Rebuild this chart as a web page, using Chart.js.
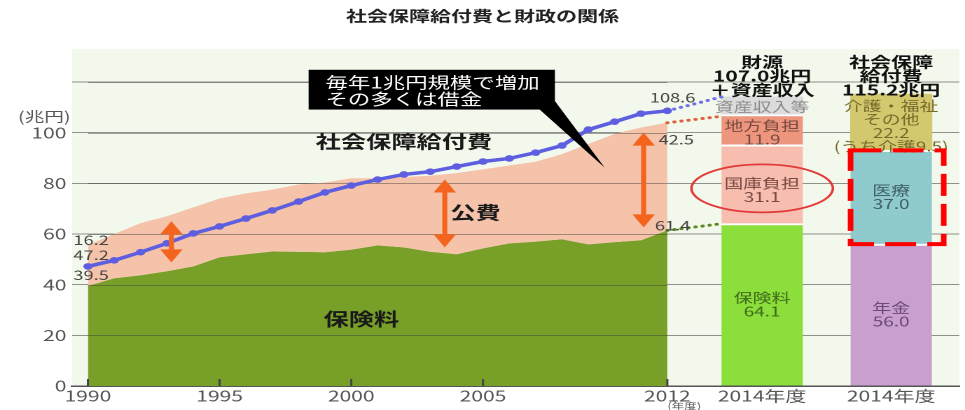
<!DOCTYPE html>
<html lang="ja">
<head>
<meta charset="utf-8">
<title>社会保障給付費と財政の関係</title>
<script src="https://cdn.jsdelivr.net/npm/chart.js@4.4.1/dist/chart.umd.min.js"></script>
<style>
  html, body { margin: 0; padding: 0; background: #fff; overflow: hidden; }
  /* the chart is laid out narrow and widened horizontally */
  #wrap { width: 689px; height: 410px; transform: scaleX(1.4006); transform-origin: 0 0; }
</style>
</head>
<body>
<div id="wrap"><canvas id="myChart"></canvas></div>
<script>
// 年度別（兆円）
const years = [1990, 1991, 1992, 1993, 1994, 1995, 1996, 1997, 1998, 1999, 2000, 2001,
               2002, 2003, 2004, 2005, 2006, 2007, 2008, 2009, 2010, 2011, 2012];
const benefitTotal = [47.2, 49.6, 52.8, 56.3, 60.2, 63.0, 66.1, 69.3, 72.8, 76.4, 79.1, 81.5,
                      83.5, 84.6, 86.6, 88.6, 89.8, 92.1, 94.9, 101.2, 104.3, 107.5, 108.6];
const premiums = [39.5, 42.5, 43.7, 45.3, 47.2, 50.8, 52.0, 53.1, 53.0, 52.8, 53.8, 55.5,
                  54.7, 53.0, 52.0, 54.3, 56.3, 57.0, 57.9, 55.9, 56.8, 57.5, 61.4];
const publicFunds = [16.2, 17.5, 20.6, 21.7, 23.3, 23.2, 24.0, 24.4, 26.5, 27.5, 28.2, 26.5,
                     27.8, 30.0, 32.0, 31.2, 30.7, 31.5, 33.6, 39.6, 42.7, 44.5, 42.5];

// 2012年度から2014年度への見通し（点線の終点）
const trend2014 = { benefit: 114.2, revenue: 106.5, premiums: 64.1 };

// 2014年度 財源と給付
const sourceNames = ['保険料', '国庫負担', '地方負担', '資産収入等'];
const sourceValues = [64.1, 31.1, 11.9, 7.0];
const benefitNames = ['年金', '医療', '介護・福祉その他'];
const benefitValues = [56.0, 37.0, 22.2];

// 軸
const yearTicks = [1990, 1995, 2000, 2005, 2012];
const yTicks = [0, 20, 40, 60, 80, 100, 120];
const yTickLabels = ['0', '20', '40', '60', '80', '100', ''];

const FONT = '"Noto Sans CJK JP", "Noto Sans", sans-serif';
const SOURCE_X = 2015.6;
const BENEFIT_X = 2020.5;

const pts = (vals) => years.map((yr, i) => ({ x: yr, y: vals[i] }));
const revenue = premiums.map((v, i) => +(v + publicFunds[i]).toFixed(1));

function segments(values, colors, xPos, labels, textColors, dys) {
  let base = 0;
  return values.map((v, i) => {
    const d = {
      type: 'bar',
      label: labels[i],
      data: [{ x: xPos, y: [base, base + v] }],
      backgroundColor: colors[i],
      borderColor: '#ffffff',
      borderWidth: { top: i < values.length - 1 ? 2 : 0, left: 0, right: 0, bottom: 0 },
      borderSkipped: false,
      barThickness: 58,
      grouped: false,
      order: 5,
      textLines: labels[i],
      textColor: textColors[i],
      textDy: dys[i],
      value: v
    };
    base += v;
    return d;
  });
}

const sourceBars = segments(sourceValues, ['#8cde3a', '#f7beaf', '#ed967d', '#dcdcdc'],
  SOURCE_X, sourceNames, ['#3f6a1e', '#7a4a42', '#7a4a42', '#8c8c8c'], [0, 6, 3, 1]);
sourceBars[0].textLines = ['保険料', sourceValues[0].toFixed(1)];
sourceBars[1].textLines = ['国庫負担', sourceValues[1].toFixed(1)];
sourceBars[2].textLines = ['地方負担', sourceValues[2].toFixed(1)];
sourceBars[3].textLines = ['資産収入等'];

const benefitBars = segments(benefitValues, ['#c8a0cd', '#8fcacd', '#d4c86e'],
  BENEFIT_X, benefitNames, ['#6e4878', '#3f5f66', '#756a2a'], [0, 0, 4]);
benefitBars[0].textLines = ['年金', benefitValues[0].toFixed(1)];
benefitBars[1].textLines = ['医療', benefitValues[1].toFixed(1)];
benefitBars[2].textLines = ['介護・福祉', 'その他', benefitValues[2].toFixed(1), '(うち介護9.5)'];

// 背景
const plotBg = {
  id: 'plotBg',
  beforeDraw(chart) {
    const { ctx, chartArea: a } = chart;
    ctx.save();
    ctx.fillStyle = '#f3f8ec';
    ctx.fillRect(a.left, a.top, a.right - a.left, a.bottom - a.top);
    ctx.restore();
  }
};

// 面グラフの上にも目盛線を引く
const gridOverArea = {
  id: 'gridOverArea',
  afterDatasetDraw(chart, args) {
    if (chart.data.datasets[args.index].id !== 'public') return;
    const { ctx, scales: { x, y } } = chart;
    ctx.save();
    ctx.strokeStyle = 'rgba(60,60,60,0.45)';
    ctx.lineWidth = 1;
    const x1 = x.getPixelForValue(years[0]), x2 = x.getPixelForValue(years[years.length - 1]);
    yTicks.slice(1).forEach(v => {
      const py = Math.round(y.getPixelForValue(v)) + 0.5;
      ctx.beginPath(); ctx.moveTo(x1, py); ctx.lineTo(x2, py); ctx.stroke();
    });
    ctx.restore();
  }
};

function drawArrow(ctx, px, y1, y2) {
  const hw = 8, hh = 13, sw = 3.6;
  ctx.beginPath();
  ctx.moveTo(px, y1);
  ctx.lineTo(px + hw, y1 + hh);
  ctx.lineTo(px + sw / 2, y1 + hh);
  ctx.lineTo(px + sw / 2, y2 - hh);
  ctx.lineTo(px + hw, y2 - hh);
  ctx.lineTo(px, y2);
  ctx.lineTo(px - hw, y2 - hh);
  ctx.lineTo(px - sw / 2, y2 - hh);
  ctx.lineTo(px - sw / 2, y1 + hh);
  ctx.lineTo(px - hw, y1 + hh);
  ctx.closePath();
  ctx.fill();
}

const notes = {
  id: 'notes',
  afterDraw(chart) {
    const { ctx, chartArea: a, scales: { x, y } } = chart;
    const X = v => x.getPixelForValue(v), Y = v => y.getPixelForValue(v);
    ctx.save();
    ctx.textAlign = 'center';
    ctx.textBaseline = 'middle';

    // 年の目盛（内向き）
    ctx.strokeStyle = '#444';
    ctx.lineWidth = 1.5;
    yearTicks.forEach(v => {
      ctx.beginPath(); ctx.moveTo(X(v), a.bottom); ctx.lineTo(X(v), a.bottom - 7); ctx.stroke();
    });

    // 単位
    ctx.fillStyle = '#555';
    ctx.font = '14px ' + FONT;
    ctx.textAlign = 'right';
    ctx.fillText('(兆円)', a.left - 1, Y(106.3));
    ctx.textAlign = 'center';
    ctx.font = '9px ' + FONT;
    ctx.fillText('(年度)', X(2012.64), a.bottom + 20);

    // 公費の矢印
    ctx.fillStyle = '#f4641e';
    [[1993.17, 65, 48.8], [2003.55, 81.5, 54.7], [2011.1, 100, 62.6]].forEach(([yr, hi, lo]) => {
      drawArrow(ctx, X(yr), Y(hi), Y(lo));
    });

    // 系列名
    ctx.fillStyle = '#1a1a1a';
    ctx.font = 'bold 18px ' + FONT;
    ctx.fillText('社会保障給付費', X(2002.0), Y(96.5));
    ctx.fillText('公費', X(2004.72), Y(68.5));
    ctx.fillText('保険料', X(2000.38), Y(26.4));

    // 数値
    const n = years.length - 1;
    ctx.fillStyle = '#444';
    ctx.font = '13px ' + FONT;
    ctx.textAlign = 'left';
    ctx.fillText(publicFunds[0].toFixed(1), a.left + 1, Y(57.5));
    ctx.fillText(benefitTotal[0].toFixed(1), a.left + 1, Y(51.6));
    ctx.fillText(premiums[0].toFixed(1), a.left + 1, Y(43.7));
    ctx.textAlign = 'center';
    ctx.fillText(benefitTotal[n].toFixed(1), X(2012.2), Y(113.8));
    ctx.fillText(publicFunds[n].toFixed(1), X(2012.34), Y(97.2));
    ctx.fillText(premiums[n].toFixed(1), X(2012.2), Y(63.4));

    // 吹き出し
    const bx1 = X(1998.38), bx2 = X(2007.73), by1 = Y(124.8), by2 = Y(109.1);
    ctx.fillStyle = '#000';
    ctx.fillRect(bx1, by1, bx2 - bx1, by2 - by1);
    ctx.beginPath();
    ctx.moveTo(X(2007.15), by2);
    ctx.lineTo(bx2, Y(112.5));
    ctx.lineTo(X(2009.62), Y(86.2));
    ctx.closePath();
    ctx.fill();
    ctx.fillStyle = '#fff';
    ctx.font = '16px ' + FONT;
    ctx.textAlign = 'left';
    ctx.fillText('毎年1兆円規模で増加', bx1 + 12, by1 + 12.5);
    ctx.fillText('その多くは借金', bx1 + 12, by1 + 29);
    ctx.textAlign = 'center';

    // 棒の見出し
    ctx.fillStyle = '#111';
    ctx.font = 'bold 15px ' + FONT;
    const s0 = chart.getDatasetMeta(chart.data.datasets.indexOf(sourceBars[0])).data[0];
    const b0 = chart.getDatasetMeta(chart.data.datasets.indexOf(benefitBars[0])).data[0];
    ['財源', '107.0兆円', '＋資産収入'].forEach((t, i) => ctx.fillText(t, s0.x, a.top + 13 + i * 14));
    ['社会保障', '給付費', '115.2兆円'].forEach((t, i) => ctx.fillText(t, b0.x, a.top + 13 + i * 14));

    // 棒の中の文字
    ctx.font = '13.5px ' + FONT;
    chart.data.datasets.forEach((ds, i) => {
      if (ds.type !== 'bar') return;
      const el = chart.getDatasetMeta(i).data[0];
      const cy = (el.y + el.base) / 2 + ds.textDy;
      const lines = ds.textLines;
      ctx.fillStyle = ds.textColor;
      lines.forEach((t, k) => ctx.fillText(t, el.x, cy + (k - (lines.length - 1) / 2) * 13.5));
    });

    // 国庫負担の丸
    ctx.strokeStyle = '#e23a3a';
    ctx.lineWidth = 1.8;
    ctx.beginPath();
    ctx.ellipse(s0.x, Y(78), 50.5, 24, 0, 0, Math.PI * 2);
    ctx.stroke();

    // 医療の破線枠
    const med = chart.getDatasetMeta(chart.data.datasets.indexOf(benefitBars[1])).data[0];
    ctx.strokeStyle = '#ff0000';
    ctx.lineWidth = 4;
    ctx.setLineDash([22, 8]);
    ctx.strokeRect(med.x - med.width / 2, med.y, med.width + 8.5, med.base - med.y);
    ctx.setLineDash([]);

    ctx.restore();
  }
};

const dotted = (x0, y0, y1, color) => ({
  type: 'line',
  data: [{ x: years[years.length - 1], y: y0 }, { x: 2014.1, y: y1 }],
  borderColor: color,
  borderWidth: 3,
  borderDash: [0.1, 5],
  borderCapStyle: 'round',
  pointRadius: 0,
  fill: false,
  order: 2
});

const n = years.length - 1;
const chart = new Chart(document.getElementById('myChart'), {
  type: 'line',
  data: {
    datasets: [
      { id: 'premiums', type: 'line', data: pts(premiums), fill: 'origin', backgroundColor: '#78a028',
        borderWidth: 0, pointRadius: 0, tension: 0, order: 10 },
      { id: 'public', type: 'line', data: pts(revenue), fill: '-1', backgroundColor: '#f5c3aa',
        borderWidth: 0, pointRadius: 0, tension: 0, order: 9 },
      ...sourceBars,
      ...benefitBars,
      dotted(0, benefitTotal[n], trend2014.benefit, '#6f6fe6'),
      dotted(0, revenue[n], trend2014.revenue, '#e0603c'),
      dotted(0, premiums[n], trend2014.premiums, '#5a8a20'),
      { id: 'benefit', type: 'line', data: pts(benefitTotal), borderColor: '#5d5fe0', borderWidth: 3.5,
        pointRadius: 3.3, pointBackgroundColor: '#5d5fe0', pointBorderWidth: 0, tension: 0,
        fill: false, order: 1 }
    ]
  },
  options: {
    responsive: true,
    maintainAspectRatio: false,
    devicePixelRatio: 2,
    animation: false,
    layout: { padding: { left: 0, right: 0, top: 0, bottom: 4 } },
    plugins: {
      legend: { display: false },
      tooltip: { enabled: false },
      title: {
        display: true,
        text: '社会保障給付費と財政の関係',
        color: '#222',
        font: { family: FONT, size: 15, weight: 'bold' },
        padding: { top: 7, bottom: 24 }
      }
    },
    scales: {
      x: {
        type: 'linear',
        min: 1989.396,
        max: 2023.09,
        offset: false,
        afterBuildTicks: s => { s.ticks = [...yearTicks, SOURCE_X, BENEFIT_X].map(v => ({ value: v })); },
        ticks: {
          autoSkip: false,
          maxRotation: 0,
          padding: 1,
          color: '#555',
          font: { family: FONT, size: 15 },
          callback: v => (v === SOURCE_X || v === BENEFIT_X) ? '2014年度' : String(v)
        },
        grid: { display: false, drawTicks: false },
        border: { display: true, color: '#555', width: 1.5 }
      },
      y: {
        type: 'linear',
        min: 0,
        max: 133,
        afterBuildTicks: s => { s.ticks = yTicks.map(v => ({ value: v })); },
        afterFit: s => { s.width = 51.4; },
        ticks: {
          padding: 4,
          color: '#555',
          font: { family: FONT, size: 15 },
          callback: v => yTickLabels[yTicks.indexOf(v)]
        },
        grid: { color: 'rgba(60,60,60,0.55)', lineWidth: 1, drawTicks: false },
        border: { display: false }
      }
    }
  },
  plugins: [plotBg, gridOverArea, notes]
});
</script>
</body>
</html>
